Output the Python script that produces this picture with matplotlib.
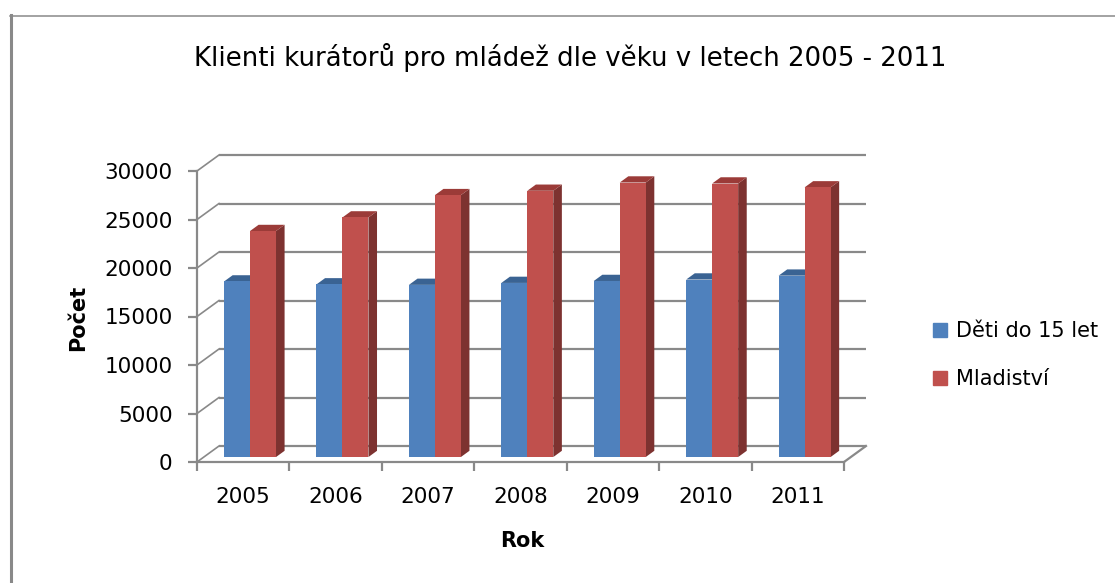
import numpy as np
import matplotlib
matplotlib.use("Agg")
import matplotlib.pyplot as plt
from matplotlib.patches import Polygon, Patch
from matplotlib.lines import Line2D

# data
years = ["2005", "2006", "2007", "2008", "2009", "2010", "2011"]
deti = [18100, 17800, 17750, 17950, 18150, 18300, 18700]
mladistvi = [23300, 24700, 27000, 27450, 28300, 28200, 27800]
series_names = ["Děti do 15 let", "Mladiství"]
yticks = [0, 5000, 10000, 15000, 20000, 25000, 30000]

W, H = 1115, 583
fig = plt.figure(figsize=(W / 100, H / 100), dpi=100)

# front plane of the 3D box (pixels): x 197..844, y 462 (0) .. 171 (30000)
ax = fig.add_axes([197 / W, 1 - 462 / H, 647 / W, 291 / H])
ax.set_xlim(0, len(years))
ax.set_ylim(0, 30000)
ax.set_facecolor("none")

grid_c = "#898989"
# depth of the box in data units (22 px right, 16 px up)
DX = 22 / (647 / len(years))
DY = 16 / (291 / 30000)

# back wall gridlines + left wall diagonals
for v in yticks:
    ax.plot([DX, len(years) + DX], [v + DY, v + DY], color=grid_c, lw=1.6,
            zorder=1, solid_capstyle="butt", clip_on=False)
    ax.plot([0, DX], [v, v + DY], color=grid_c, lw=1.2, zorder=1, clip_on=False)
# floor right edge
ax.plot([len(years), len(years) + DX], [0, DY], color=grid_c, lw=1.6, zorder=1,
        clip_on=False)

# bars
bw = 0.281
ox, oy = 0.31 * DX, 0.31 * DY
bx, by = 0.39 * DX, 0.39 * DY
colors = [("#4F81BD", "#3A6393", "#385D8A"), ("#C0504D", "#9B3B38", "#7D3230")]
x = np.arange(len(years)) + 0.5 + ox
for s, vals in enumerate([deti, mladistvi]):
    front, top, side = colors[s]
    left = x - bw + s * bw
    for l, v in zip(left, vals):
        t = v + oy
        ax.add_patch(Polygon([(l + bw, oy), (l + bw + bx, oy + by),
                              (l + bw + bx, t + by), (l + bw, t)],
                             closed=True, fc=side, ec="none", zorder=2 + s,
                             clip_on=False))
        ax.add_patch(Polygon([(l, t), (l + bx, t + by), (l + bw + bx, t + by),
                              (l + bw, t)],
                             closed=True, fc=top, ec="none", zorder=2 + s,
                             clip_on=False))
    ax.bar(left, vals, width=bw, bottom=oy, align="edge", color=front,
           edgecolor="none", zorder=2 + s, clip_on=False)

# axes lines and ticks
for sp in ["top", "right"]:
    ax.spines[sp].set_visible(False)
for sp in ["left", "bottom"]:
    ax.spines[sp].set_color(grid_c)
    ax.spines[sp].set_linewidth(1.6)
    ax.spines[sp].set_zorder(1)
ax.set_yticks(yticks)
ax.set_yticklabels([str(v) for v in yticks], fontsize=15.5)
ax.tick_params(axis="y", direction="out", length=6.5, width=1.6, color=grid_c,
               pad=11)
ax.set_xticks(np.arange(len(years) + 1))
ax.set_xticklabels([])
ax.set_xticks(np.arange(len(years)) + 0.5, minor=True)
ax.set_xticklabels(years, minor=True, fontsize=15.5)
ax.tick_params(axis="x", which="major", direction="out", length=6.5, width=1.6,
               color=grid_c)
ax.tick_params(axis="x", which="minor", length=0, pad=18)

# titles
fig.text(570 / W, 1 - 57 / H, "Klienti kurátorů pro mládež dle věku v letech 2005 - 2011",
         ha="center", va="center", fontsize=18.7)
fig.text(78 / W, 1 - 318 / H, "Počet", rotation=90, ha="center", va="center",
         fontsize=15, fontweight="bold")
fig.text(522 / W, 1 - 541 / H, "Rok", ha="center", va="center", fontsize=15,
         fontweight="bold")

# legend
handles = [Patch(color=colors[0][0]), Patch(color=colors[1][0])]
fig.legend(handles, series_names, loc="upper left",
           bbox_to_anchor=(925 / W, 1 - 313 / H), frameon=False, fontsize=15,
           handlelength=0.65, handleheight=0.65, handletextpad=0.45,
           labelspacing=1.34, borderaxespad=0)

# chart frame
fig.add_artist(Line2D([10.5 / W, 10.5 / W], [0, 1 - 15 / H], color=grid_c, lw=2.2,
                      transform=fig.transFigure))
fig.add_artist(Line2D([10 / W, 1], [1 - 15.5 / H, 1 - 15.5 / H], color=grid_c,
                      lw=1.1, transform=fig.transFigure))

fig.savefig("out.png", dpi=100)
